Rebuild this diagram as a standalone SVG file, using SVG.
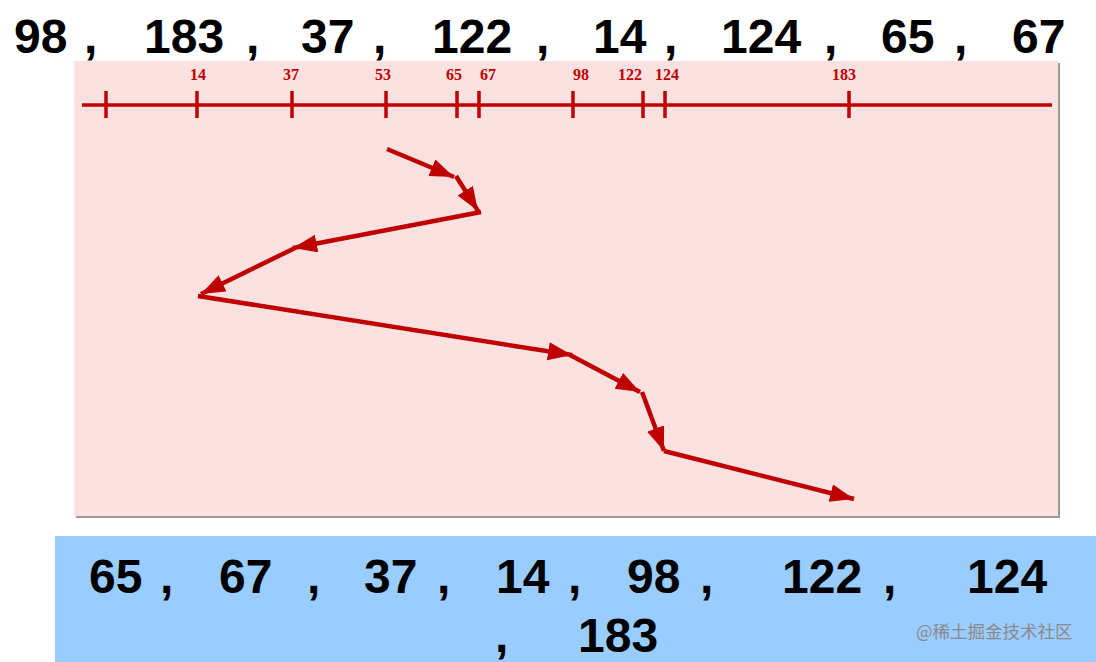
<svg xmlns="http://www.w3.org/2000/svg" width="1096" height="662" viewBox="0 0 1096 662">
<style>
.big{font-family:"Liberation Sans",Arial,sans-serif;font-weight:bold;font-size:48px;fill:#000}
.lbl{font-family:"Liberation Serif","Times New Roman",serif;font-size:16px;font-weight:bold;fill:#c00000;text-anchor:middle}
.ax{stroke:#c00000;stroke-width:3.5;fill:none}
.ar{stroke:#c00000;stroke-width:4.5;fill:none;marker-end:url(#ah)}
.wm{font-family:"Noto Sans CJK SC",sans-serif;font-size:17.5px;fill:#8a8a8a}
</style>
<defs>
<marker id="ah" markerUnits="userSpaceOnUse" markerWidth="26" markerHeight="20" refX="24" refY="9" orient="auto">
<path d="M0,0 L24,9 L0,18 Z" fill="#c00000"/>
</marker>
</defs>
<rect width="1096" height="662" fill="#fff"/>
<g id="top-sequence">
<text class="big" x="14" y="53">98</text><text class="big" x="84" y="53">,</text>
<text class="big" x="144" y="53">183</text><text class="big" x="246" y="53">,</text>
<text class="big" x="301" y="53">37</text><text class="big" x="373" y="53">,</text>
<text class="big" x="432" y="53">122</text><text class="big" x="536" y="53">,</text>
<text class="big" x="593" y="53">14</text><text class="big" x="664" y="53">,</text>
<text class="big" x="721" y="53">124</text><text class="big" x="824" y="53">,</text>
<text class="big" x="881" y="53">65</text><text class="big" x="954" y="53">,</text>
<text class="big" x="1012" y="53">67</text>
</g>
<g id="panel">
<rect x="76" y="63" width="984" height="455" fill="#999"/>
<rect x="74" y="61" width="984" height="455" fill="#fde0e0"/>
</g>
<g id="axis">
<line class="ax" x1="82" y1="105" x2="1052" y2="105"/>
<path class="ax" d="M106,91V118M197,91V118M292,91V118M386,91V118M457,91V118M479,91V118M573,91V118M643,91V118M665,91V118M849,91V118"/>
<text class="lbl" x="198" y="80">14</text>
<text class="lbl" x="291" y="80">37</text>
<text class="lbl" x="383" y="80">53</text>
<text class="lbl" x="454" y="80">65</text>
<text class="lbl" x="488" y="80">67</text>
<text class="lbl" x="581" y="80">98</text>
<text class="lbl" x="630" y="80">122</text>
<text class="lbl" x="667" y="80">124</text>
<text class="lbl" x="844" y="80">183</text>
</g>
<g id="connectors">
<line class="ar" x1="387" y1="149" x2="454" y2="177"/>
<line class="ar" x1="456" y1="176" x2="478" y2="211"/>
<line class="ar" x1="481" y1="212" x2="293" y2="248"/>
<line class="ar" x1="295" y1="248" x2="201" y2="294"/>
<line class="ar" x1="198" y1="296" x2="572" y2="355"/>
<line class="ar" x1="570" y1="355" x2="640" y2="392"/>
<line class="ar" x1="642" y1="392" x2="664" y2="451"/>
<line class="ar" x1="664" y1="451" x2="854" y2="499"/>
</g>
<g id="result">
<rect x="55" y="536" width="1041" height="126" fill="#99ccff"/>
<text class="big" x="89" y="593">65</text><text class="big" x="160" y="593">,</text>
<text class="big" x="219" y="593">67</text><text class="big" x="307" y="593">,</text>
<text class="big" x="364" y="593">37</text><text class="big" x="437" y="593">,</text>
<text class="big" x="496" y="593">14</text><text class="big" x="568" y="593">,</text>
<text class="big" x="627" y="593">98</text><text class="big" x="700" y="593">,</text>
<text class="big" x="782" y="593">122</text><text class="big" x="883" y="593">,</text>
<text class="big" x="967" y="593">124</text>
<text class="big" x="495" y="652">,</text>
<text class="big" x="578" y="652">183</text>
<text class="wm" x="916" y="638">@稀土掘金技术社区</text>
</g>
</svg>
